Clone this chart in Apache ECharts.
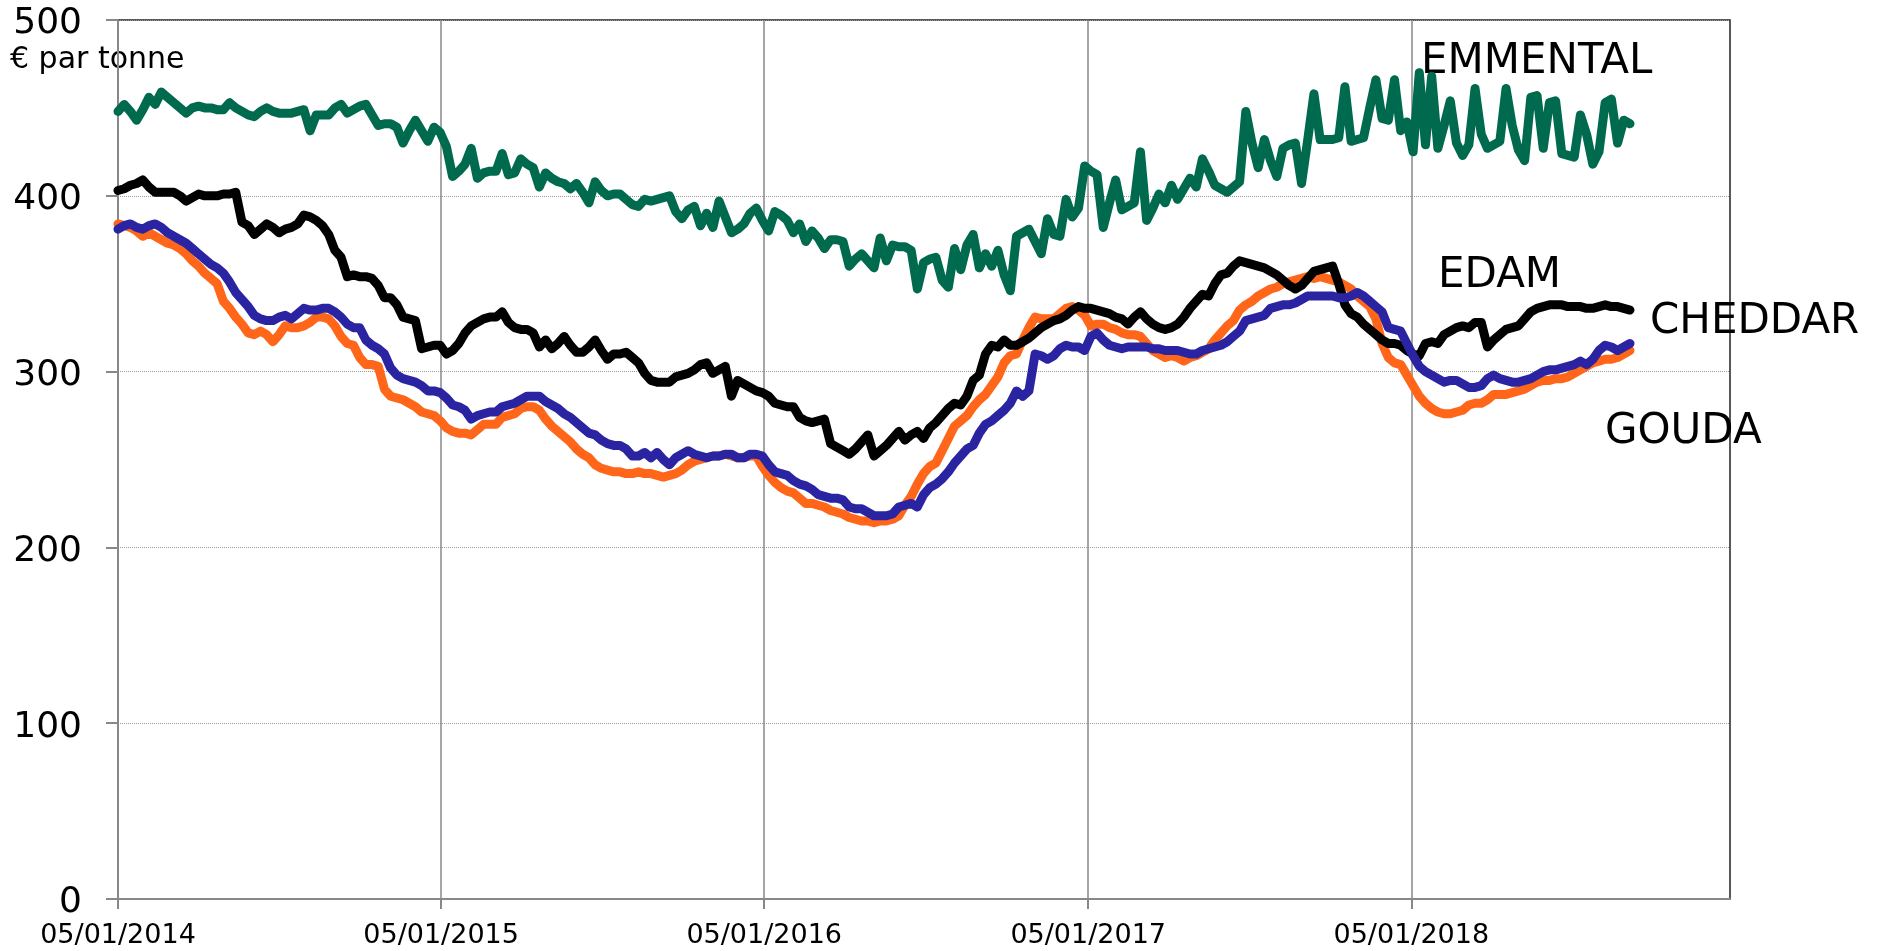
<!DOCTYPE html>
<html>
<head>
<meta charset="utf-8">
<title>Prix des fromages</title>
<script src="https://cdn.jsdelivr.net/npm/echarts@6/dist/echarts.min.js"></script>
<style>
  html, body { margin: 0; padding: 0; background: #fff; }
  #chart { width: 1881px; height: 951px; }
</style>
</head>
<body>
<div id="chart"></div>
<script>
// weekly prices, € par tonne, first week = 05/01/2014
var emmental = [
  448,452,448,443,449,456,452,459,456,453,
  450,447,450,451,450,450,449,449,453,450,
  448,446,445,448,450,448,447,447,447,448,
  449,437,446,446,446,450,452,447,449,451,
  452,446,440,441,441,439,430,437,443,437,
  431,439,436,428,411,414,418,427,410,413,
  414,414,424,412,413,421,418,416,405,413,
  410,408,407,404,407,402,396,408,403,400,
  401,401,398,395,394,398,397,398,399,400,
  391,387,392,394,383,390,382,397,388,379,
  381,384,390,393,386,380,391,389,386,379,
  384,374,380,376,370,375,375,374,360,364,
  367,363,359,376,363,372,371,371,369,347,
  362,364,365,352,348,370,358,372,378,359,
  367,360,369,355,346,377,379,381,374,367,
  387,378,377,398,388,393,417,414,412,382,
  396,409,392,394,396,425,386,393,401,396,
  406,398,404,410,405,421,414,406,404,402,
  405,408,448,430,416,432,420,411,427,429,
  430,407,432,458,432,432,432,433,462,431,
  432,433,450,466,444,443,466,437,442,425,
  470,429,468,427,440,454,430,423,429,461,
  435,427,429,431,461,440,426,420,456,457,
  427,453,454,424,423,422,446,435,418,425,
  453,455,430,443,441
];
var cheddar = [
  403,404,406,407,409,405,402,402,402,402,
  400,397,399,401,400,400,400,401,401,402,
  385,383,378,381,384,382,379,381,382,384,
  389,388,386,383,378,369,365,354,355,354,
  354,353,349,342,342,338,331,330,329,313,
  314,315,315,310,312,316,322,326,328,330,
  331,331,334,328,325,324,324,322,314,318,
  313,316,320,315,311,311,314,318,312,307,
  310,310,311,308,305,299,295,294,294,294,
  297,298,299,301,304,305,299,301,303,286,
  295,293,291,289,288,286,282,281,280,280,
  274,272,271,272,273,259,257,255,253,256,
  260,264,252,255,258,262,266,261,264,266,
  262,268,271,275,279,282,281,286,295,298,
  310,315,314,318,315,315,317,319,322,325,
  327,329,330,332,335,337,336,336,335,334,
  333,331,330,327,331,334,330,327,325,324,
  325,327,331,336,340,344,343,350,355,356,
  360,363,362,361,360,359,357,355,352,349,
  347,349,353,357,358,359,360,350,338,333,
  331,327,324,321,318,316,316,315,312,310,
  309,316,317,316,321,323,325,326,325,328,
  328,314,318,321,324,325,326,330,334,336,
  337,338,338,338,337,337,337,336,336,337,
  338,337,337,336,335
];
var gouda = [
  381,383,384,382,381,383,384,382,379,377,
  375,373,370,367,364,361,359,356,351,345,
  341,337,332,330,329,329,331,332,330,333,
  336,335,335,336,336,334,331,327,325,325,
  318,315,313,310,302,298,296,295,294,292,
  289,289,288,285,281,280,278,273,275,276,
  277,277,280,281,282,284,286,286,286,283,
  281,279,276,274,271,268,265,264,261,259,
  258,258,256,252,252,254,251,254,250,247,
  251,253,255,253,252,251,252,252,253,253,
  251,251,253,253,252,247,243,242,241,238,
  236,235,233,230,229,228,228,227,223,222,
  222,220,218,218,218,219,223,224,225,223,
  230,234,236,239,243,248,252,256,258,265,
  270,272,275,278,282,289,286,289,310,309,
  307,309,313,315,314,314,312,320,322,318,
  315,314,313,314,314,314,314,313,313,312,
  312,312,311,310,310,312,313,314,315,317,
  320,323,329,330,331,332,336,337,338,338,
  339,341,343,343,343,343,343,342,342,343,
  345,343,340,337,334,325,324,323,316,309,
  303,300,298,296,294,295,295,293,291,291,
  292,296,298,296,295,294,294,295,296,298,
  300,301,301,302,303,304,306,304,307,312,
  315,314,312,314,316
];
var edam = [
  384,383,382,380,377,379,377,375,373,372,
  370,367,363,360,356,353,350,340,336,331,
  327,322,321,323,321,317,321,326,325,325,
  326,328,331,331,330,326,320,316,315,308,
  304,304,303,290,286,285,284,282,280,277,
  276,275,272,268,266,265,265,264,267,270,
  270,270,274,275,276,279,280,280,278,273,
  269,266,263,260,256,253,251,247,245,244,
  243,243,242,242,243,242,242,241,240,241,
  242,244,247,249,250,251,252,252,253,252,
  251,251,252,252,246,241,237,234,232,231,
  228,225,225,224,223,221,220,219,217,216,
  215,215,214,215,215,216,218,224,229,236,
  242,246,248,255,262,269,272,275,280,284,
  287,292,297,305,309,310,318,325,331,330,
  330,330,333,336,337,335,332,326,327,327,
  325,324,322,321,321,320,316,312,310,308,
  309,308,306,308,309,311,313,318,322,326,
  329,335,338,340,343,345,347,348,350,351,
  352,353,354,353,354,353,352,351,349,347,
  343,340,337,330,316,308,305,304,298,292,
  286,282,279,277,276,276,277,278,281,282,
  282,284,287,287,287,288,289,290,292,294,
  295,295,296,296,297,299,301,303,305,306,
  307,307,308,310,312
];

// x axis in days since 05/01/2014
var tickDays = [0, 365, 730, 1096, 1461];
var tickLabels = ['05/01/2014', '05/01/2015', '05/01/2016', '05/01/2017', '05/01/2018'];
var axisEndDay = 1821; // 31/12/2018

function weekly(values) {
  return values.map(function (v, i) { return [i * 7, v]; });
}

var chart = echarts.init(document.getElementById('chart'));
var font = 'DejaVu Sans';

function line(name, values, color) {
  return {
    name: name,
    type: 'line',
    data: weekly(values),
    showSymbol: false,
    symbol: 'none',
    animation: false,
    lineStyle: { color: color, width: 9, cap: 'round', join: 'round' }
  };
}

function label(text, x, y, size) {
  return {
    type: 'text',
    style: { text: text, x: x, y: y, font: size + 'px "DejaVu Sans"', fill: '#000', verticalAlign: 'middle' }
  };
}

chart.setOption({
  backgroundColor: '#fff',
  animation: false,
  grid: {
    left: 118, right: 151, top: 20, bottom: 52,
    show: true, borderColor: '#222', borderWidth: 1.5, backgroundColor: 'transparent'
  },
  xAxis: {
    type: 'value',
    min: 0,
    max: axisEndDay,
    axisLine: { show: true, lineStyle: { color: '#888', width: 2 } },
    axisTick: { show: true, length: 10, customValues: tickDays, lineStyle: { color: '#888', width: 2 } },
    axisLabel: {
      customValues: tickDays,
      margin: 23,
      fontFamily: font,
      fontSize: 27,
      color: '#000',
      formatter: function (val) {
        var k = tickDays.indexOf(val);
        return k >= 0 ? tickLabels[k] : '';
      }
    },
    splitLine: { show: true, lineStyle: { color: '#888', width: 1.5, type: 'solid' } }
  },
  yAxis: {
    type: 'value',
    min: 0,
    max: 500,
    interval: 100,
    axisLine: { show: true, lineStyle: { color: '#888', width: 2 } },
    axisTick: { show: true, length: 12, lineStyle: { color: '#888', width: 2 } },
    axisLabel: {
      margin: 36,
      formatter: function (val) { return '{v|' + val + '}'; },
      rich: { v: { fontFamily: font, fontSize: 36, color: '#000', padding: [8, 0, 0, 0] } }
    },
    splitLine: { show: true, lineStyle: { color: '#999', width: 1, type: 'dotted' } }
  },
  graphic: [
    label('€ par tonne', 10, 60, 30),
    label('EMMENTAL', 1421, 62, 42),
    label('EDAM', 1438, 276, 42),
    label('CHEDDAR', 1650, 322, 42),
    label('GOUDA', 1605, 432, 42)
  ],
  series: [
    line('EMMENTAL', emmental, '#006a4e'),
    line('EDAM', edam, '#ff661a'),
    line('CHEDDAR', cheddar, '#000000'),
    line('GOUDA', gouda, '#2a24a2')
  ]
});
</script>
</body>
</html>
